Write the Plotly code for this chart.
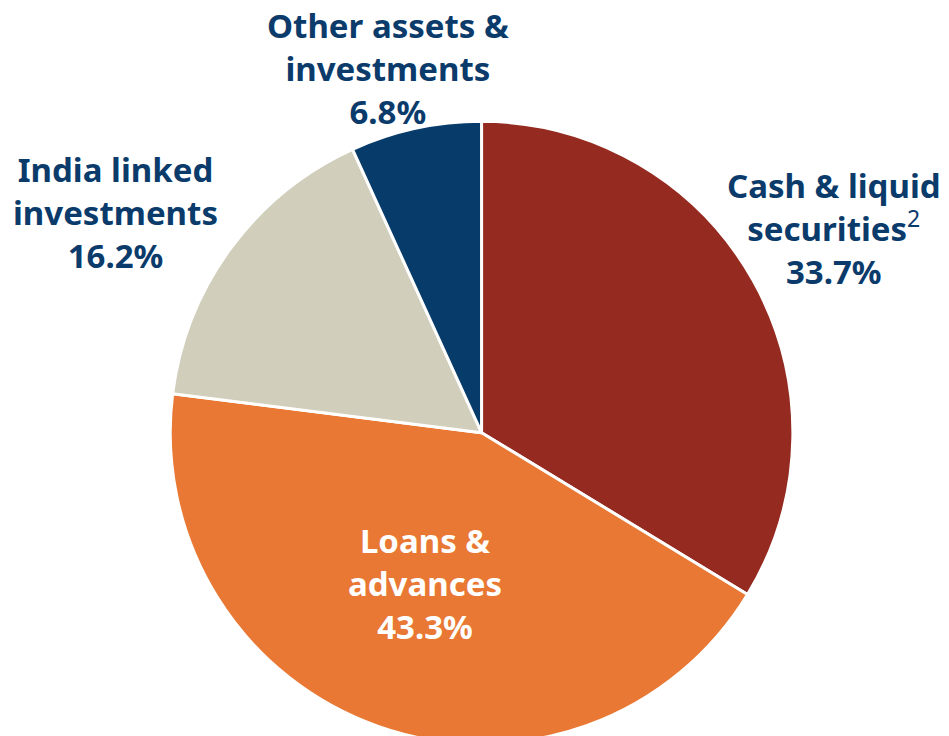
import plotly.graph_objects as go

# 资产构成
labels = ["Cash & liquid<br>securities<sup><span style='font-weight:normal'>2</span></sup>",
          "Loans &<br>advances", "India linked<br>investments",
          "Other assets &<br>investments"]
values = [33.7, 43.3, 16.2, 6.8]
colors = ["#942A20", "#E87833", "#D1CEBC", "#073B6A"]
text_colors = ["#0B3B6B", "#FFFFFF", "#0B3B6B", "#0B3B6B"]

# 标签位置 (paper 坐标)
LABEL_POS = [(0.870, 0.701), (0.439, 0.218), (0.113, 0.722), (0.400, 0.918)]

fig = go.Figure(go.Pie(
    labels=labels, values=values,
    marker=dict(colors=colors, line=dict(color="white", width=3)),
    sort=False, direction="clockwise", rotation=0,
    textinfo="none", hoverinfo="label+percent",
    domain=dict(x=[0.169, 0.829], y=[0.0, 0.846]),
    showlegend=False,
))

for lab, v, tc, (x, y) in zip(labels, values, text_colors, LABEL_POS):
    fig.add_annotation(
        x=x, y=y, xref="paper", yref="paper",
        text=f"{lab}<br>{v}%", showarrow=False,
        xanchor="center", yanchor="middle", align="center",
        borderpad=0,
        font=dict(family="Noto Sans", size=33, color=tc, weight="bold"),
    )

fig.update_layout(
    width=949, height=736,
    margin=dict(l=0, r=0, t=0, b=0),
    paper_bgcolor="white", plot_bgcolor="white",
)

fig.write_html("out.html")
